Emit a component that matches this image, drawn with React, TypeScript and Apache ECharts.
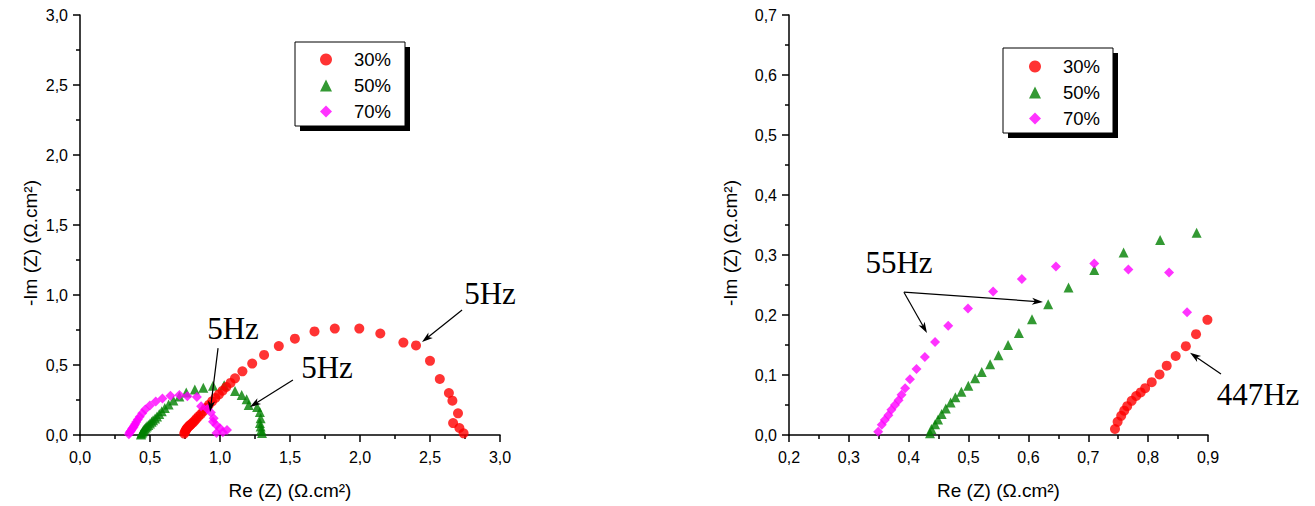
import React, { useEffect, useRef } from "react";
import * as echarts from "echarts";

// ---------- data (Re(Z), -Im(Z)) in Ω.cm² ----------
const SERIES_NAMES = ["30%", "50%", "70%"];

const RE_IM_30: number[][] = [
  [0.7446, 0.01], [0.749, 0.022], [0.755, 0.032], [0.76, 0.0405], [0.765, 0.048],
  [0.7725, 0.057], [0.78, 0.065], [0.7875, 0.071], [0.795, 0.078], [0.806, 0.088],
  [0.819, 0.101], [0.831, 0.1155], [0.846, 0.1317], [0.863, 0.148], [0.88, 0.168],
  [0.899, 0.192], [0.92, 0.215], [0.943, 0.24], [0.967, 0.265], [0.992, 0.29],
  [1.018, 0.316], [1.045, 0.343], [1.075, 0.372], [1.107, 0.405], [1.16, 0.455],
  [1.23, 0.51], [1.315, 0.572], [1.42, 0.635], [1.535, 0.688], [1.675, 0.74],
  [1.82, 0.76], [1.995, 0.76], [2.145, 0.725], [2.31, 0.66], [2.4, 0.64],
  [2.5, 0.53], [2.57, 0.4], [2.635, 0.3], [2.66, 0.245], [2.7, 0.155],
  [2.665, 0.085], [2.71, 0.05], [2.74, 0.012],
];

const RE_IM_50: number[][] = [
  [0.4356, 0.003], [0.438, 0.01], [0.444, 0.018], [0.449, 0.026], [0.455, 0.035],
  [0.462, 0.044], [0.47, 0.054], [0.478, 0.063], [0.488, 0.072], [0.4996, 0.082],
  [0.511, 0.0945], [0.522, 0.105], [0.536, 0.118], [0.55, 0.133], [0.566, 0.15],
  [0.584, 0.17], [0.606, 0.193], [0.633, 0.218], [0.667, 0.246], [0.71, 0.275],
  [0.759, 0.304], [0.82, 0.325], [0.881, 0.337], [0.95, 0.352], [1.03, 0.355],
  [1.107, 0.315], [1.155, 0.286], [1.19, 0.255], [1.205, 0.215], [1.265, 0.2],
  [1.285, 0.165], [1.29, 0.12], [1.285, 0.085], [1.29, 0.06], [1.295, 0.035],
  [1.3, 0.015],
];

const RE_IM_70: number[][] = [
  [0.349, 0.0055], [0.355, 0.017], [0.36, 0.025], [0.366, 0.033], [0.371, 0.042],
  [0.377, 0.05], [0.383, 0.058], [0.388, 0.067], [0.394, 0.078], [0.402, 0.093],
  [0.413, 0.11], [0.427, 0.13], [0.444, 0.155], [0.466, 0.182], [0.499, 0.211],
  [0.541, 0.239], [0.589, 0.26], [0.646, 0.281], [0.71, 0.286], [0.767, 0.276],
  [0.835, 0.271], [0.865, 0.2045], [0.91, 0.185], [0.935, 0.16], [0.955, 0.12],
  [0.95, 0.095], [0.975, 0.07], [1.0, 0.048], [1.05, 0.035], [0.975, 0.015],
  [1.02, 0.02],
];

// axis ranges [min, max, interval]
const LEFT_X_RANGE = [0, 3, 0.5];
const LEFT_Y_RANGE = [0, 3, 0.5];
const RIGHT_X_RANGE = [0.2, 0.9, 0.1];
const RIGHT_Y_RANGE = [0, 0.7, 0.1];

const X_TITLE = "Re (Z) (Ω.cm²)";
const Y_TITLE = "-Im (Z) (Ω.cm²)";

// frequency annotations in data coordinates of each panel
const ANNOTATIONS = [
  { panel: 0, text: "5Hz", at: [1.093, 0.764], from: [0.986, 0.621], to: [[0.929, 0.164]] },
  { panel: 0, text: "5Hz", at: [1.764, 0.479], from: [1.521, 0.393], to: [[1.214, 0.2]] },
  { panel: 0, text: "5Hz", at: [2.929, 1.014], from: [2.729, 0.893], to: [[2.443, 0.664]] },
  { panel: 1, text: "55Hz", at: [0.3838, 0.288], from: [0.392, 0.238], to: [[0.4305, 0.17], [0.6243, 0.2217]] },
  { panel: 1, text: "447Hz", at: [0.9835, 0.068], from: [0.9217, 0.1017], to: [[0.87, 0.137]] },
];

const COLORS = ["#FF0000", "#008000", "#FF00FF"];
const SYMBOLS = ["circle", "triangle", "diamond"];
const Z_ORDER = [3, 2, 4];
const DATASETS = [RE_IM_30, RE_IM_50, RE_IM_70];

const SANS = 'Arial, "Liberation Sans", sans-serif';
const SERIF = '"Times New Roman", "Liberation Serif", serif';

const fmt = (v: number) => v.toFixed(1).replace(".", ",");

function axisCommon() {
  return {
    type: "value" as const,
    axisLine: { show: true, onZero: false, lineStyle: { color: "#000", width: 1.5 } },
    axisTick: { show: true, inside: false, length: 7, lineStyle: { color: "#000", width: 1.5 } },
    minorTick: { show: true, splitNumber: 2, length: 4, lineStyle: { color: "#000", width: 1.5 } },
    splitLine: { show: false },
    minorSplitLine: { show: false },
    axisLabel: { color: "#000", fontSize: 16, fontFamily: SANS, formatter: fmt },
  };
}

export default function App() {
  const ref = useRef<HTMLDivElement>(null);

  useEffect(() => {
    if (!ref.current) return;
    const chart = echarts.init(ref.current, null, { renderer: "svg" });

    const grids = [
      { left: 80, top: 15, width: 420, height: 420 },
      { left: 789, top: 15, width: 419, height: 420 },
    ];
    const xr = [LEFT_X_RANGE, RIGHT_X_RANGE];
    const yr = [LEFT_Y_RANGE, RIGHT_Y_RANGE];
    const yNameGap = [40, 49];

    const xAxis = [0, 1].map((i) => {
      const c = axisCommon();
      return {
        ...c,
        gridIndex: i,
        min: xr[i][0],
        max: xr[i][1],
        interval: xr[i][2],
        axisLabel: { ...c.axisLabel, margin: 14 },
        name: X_TITLE,
        nameLocation: "middle",
        nameGap: 46,
        nameTextStyle: { color: "#000", fontSize: 19, fontFamily: SANS },
      };
    });
    const yAxis = [0, 1].map((i) => {
      const c = axisCommon();
      return {
        ...c,
        gridIndex: i,
        min: yr[i][0],
        max: yr[i][1],
        interval: yr[i][2],
        axisLabel: { ...c.axisLabel, margin: 12 },
        name: Y_TITLE,
        nameLocation: "middle",
        nameGap: yNameGap[i],
        nameTextStyle: { color: "#000", fontSize: 19, fontFamily: SANS, padding: [0, 36, 0, 0] },
      };
    });

    const series: any[] = [];
    [0, 1].forEach((p) => {
      DATASETS.forEach((d, k) => {
        series.push({
          type: "scatter",
          name: SERIES_NAMES[k],
          xAxisIndex: p,
          yAxisIndex: p,
          data: d,
          symbol: SYMBOLS[k],
          symbolSize: 10,
          itemStyle: { color: COLORS[k] },
          z: Z_ORDER[k],
          clip: true,
        });
      });
    });

    const legendBase = {
      orient: "vertical",
      data: SERIES_NAMES,
      itemWidth: 12,
      itemHeight: 12,
      itemGap: 7,
      padding: 0,
      selectedMode: false,
      z: 10,
      textStyle: { fontSize: 18.5, fontFamily: SANS, color: "#000", padding: [0, 0, 0, 17] },
    };

    chart.setOption({
      animation: false,
      backgroundColor: "#fff",
      grid: grids,
      xAxis,
      yAxis,
      legend: [
        { ...legendBase, left: 320, top: 50 },
        { ...legendBase, left: 1029, top: 57 },
      ],
      series,
    });

    // annotations + legend frames
    const graphic: any[] = [];
    const boxes = [
      { x: 295, y: 42, w: 110, h: 84 },
      { x: 1003, y: 48, w: 110, h: 85 },
    ];
    boxes.forEach((b) => {
      graphic.push({
        type: "rect",
        z: 5,
        shape: { x: b.x + 5, y: b.y + 5, width: b.w, height: b.h },
        style: { fill: "#000" },
      });
      graphic.push({
        type: "rect",
        z: 6,
        shape: { x: b.x, y: b.y, width: b.w, height: b.h },
        style: { fill: "#fff", stroke: "#000", lineWidth: 1 },
      });
    });

    ANNOTATIONS.forEach((a) => {
      const toPx = (v: number[]) => chart.convertToPixel({ gridIndex: a.panel }, v) as number[];
      const t = toPx(a.at);
      graphic.push({
        type: "text",
        z: 20,
        x: t[0],
        y: t[1],
        style: {
          text: a.text,
          font: `31px ${SERIF}`,
          fill: "#000",
          textAlign: "center",
          textVerticalAlign: "middle",
        },
      });
      const f = toPx(a.from);
      a.to.forEach((end) => {
        const e = toPx(end);
        const dx = e[0] - f[0];
        const dy = e[1] - f[1];
        const len = Math.sqrt(dx * dx + dy * dy);
        const ux = dx / len;
        const uy = dy / len;
        const hl = 11;
        const hw = 3.5;
        const bx = e[0] - ux * hl;
        const by = e[1] - uy * hl;
        graphic.push({
          type: "line",
          z: 20,
          shape: { x1: f[0], y1: f[1], x2: e[0] - ux * 6, y2: e[1] - uy * 6 },
          style: { stroke: "#000", lineWidth: 1.2 },
        });
        graphic.push({
          type: "polygon",
          z: 20,
          shape: {
            points: [
              [e[0], e[1]],
              [bx - uy * hw, by + ux * hw],
              [e[0] - ux * 8, e[1] - uy * 8],
              [bx + uy * hw, by - ux * hw],
            ],
          },
          style: { fill: "#000" },
        });
      });
    });

    chart.setOption({ graphic });

    return () => chart.dispose();
  }, []);

  return (
    <div
      ref={ref}
      style={{ position: "fixed", left: 0, top: 0, width: 1315, height: 506, background: "#fff" }}
    />
  );
}
